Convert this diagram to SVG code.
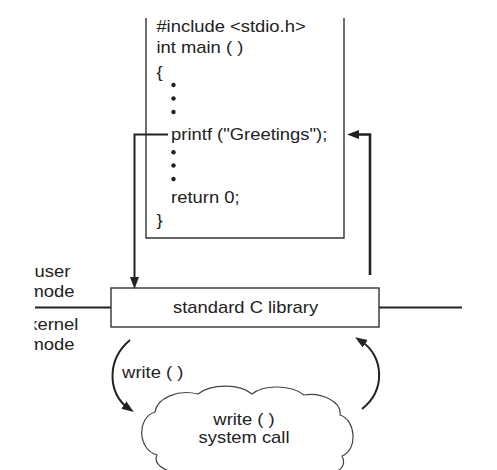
<svg xmlns="http://www.w3.org/2000/svg" width="497" height="470" viewBox="0 0 497 470">
  <style>
    .t { font-family: "Liberation Sans", Arial, Helvetica, sans-serif; font-size: 16px; fill: #222; }
    .mid { text-anchor: middle; }
    .box { fill: #fff; stroke: #333; stroke-width: 1.4; }
    .line { fill: none; stroke: #222; stroke-width: 2; }
    .dot { fill: #222; }
    .cloud { fill: #fff; stroke: #444; stroke-width: 1.2; }
  </style>
  <defs>
    <marker id="arrow" markerUnits="userSpaceOnUse" markerWidth="14" markerHeight="10" refX="5" refY="4.5" orient="auto">
      <path d="M0,0 L12,4.5 L0,9 Z" fill="#222"/>
    </marker>
    <clipPath id="leftClip">
      <rect x="34.5" y="260" width="100" height="110"/>
    </clipPath>
  </defs>
  <rect width="497" height="470" fill="#fff"/>

  <g id="program">
    <path class="box" d="M146,18 V238 H344 V18" style="fill:none"/>
    <g transform="scale(1.15 1)">
      <text class="t" x="136" y="32.3">#include &lt;stdio.h&gt;</text>
      <text class="t" x="136" y="53.3">int main ( )</text>
      <text class="t" x="136" y="78">{</text>
      <text class="t" x="148.8" y="139.8">printf ("Greetings");</text>
      <text class="t" x="148.8" y="202.7">return 0;</text>
      <text class="t" x="136" y="226">}</text>
    </g>
    <circle class="dot" cx="173.5" cy="85" r="2.2"/>
    <circle class="dot" cx="173.5" cy="98.5" r="2.2"/>
    <circle class="dot" cx="173.5" cy="112" r="2.2"/>
    <circle class="dot" cx="173.5" cy="152.3" r="2.2"/>
    <circle class="dot" cx="173.5" cy="165.5" r="2.2"/>
    <circle class="dot" cx="173.5" cy="179" r="2.2"/>
  </g>

  <g id="mode-boundary">
    <path class="line" d="M35,307.5 H111 M379,307.5 H462"/>
    <g clip-path="url(#leftClip)">
      <g transform="scale(1.15 1)">
        <text class="t" x="30" y="277">user</text>
        <text class="t" x="24.8" y="297">mode</text>
        <text class="t" x="24.6" y="330">kernel</text>
        <text class="t" x="24.8" y="350">mode</text>
      </g>
    </g>
  </g>

  <g id="library">
    <rect class="box" x="111" y="288" width="268" height="39"/>
    <g transform="scale(1.15 1)">
      <text class="t mid" x="213.5" y="313">standard C library</text>
    </g>
  </g>

  <g id="syscall">
    <path class="cloud" d="M155,412 C157,398 178,389 198,394 C212,383 240,384 252,394 C264,384 292,385 304,395 C322,392 342,402 340,415 C356,420 358,450 342,456 C348,468 335,476 318,474 L318,490 L187,490 L187,474 C170,474 152,466 157,455 C138,450 136,418 155,412 Z"/>
    <g transform="scale(1.15 1)">
      <text class="t mid" x="212.2" y="425.5">write ( )</text>
      <text class="t mid" x="212.2" y="443.5">system call</text>
    </g>
  </g>

  <g id="connectors">
    <path class="line" d="M168,134.5 H134.5 V282" marker-end="url(#arrow)"/>
    <path class="line" style="stroke-width:2.6" d="M370,275 V134.5 H354" marker-end="url(#arrow)"/>
    <path class="line" d="M130,340 C106,360 108,394 128,408" marker-end="url(#arrow)"/>
    <path class="line" d="M362,409 C386,390 384,356 361,341" marker-end="url(#arrow)"/>
    <g transform="scale(1.15 1)">
      <text class="t" x="106.2" y="378.3">write ( )</text>
    </g>
  </g>
</svg>
